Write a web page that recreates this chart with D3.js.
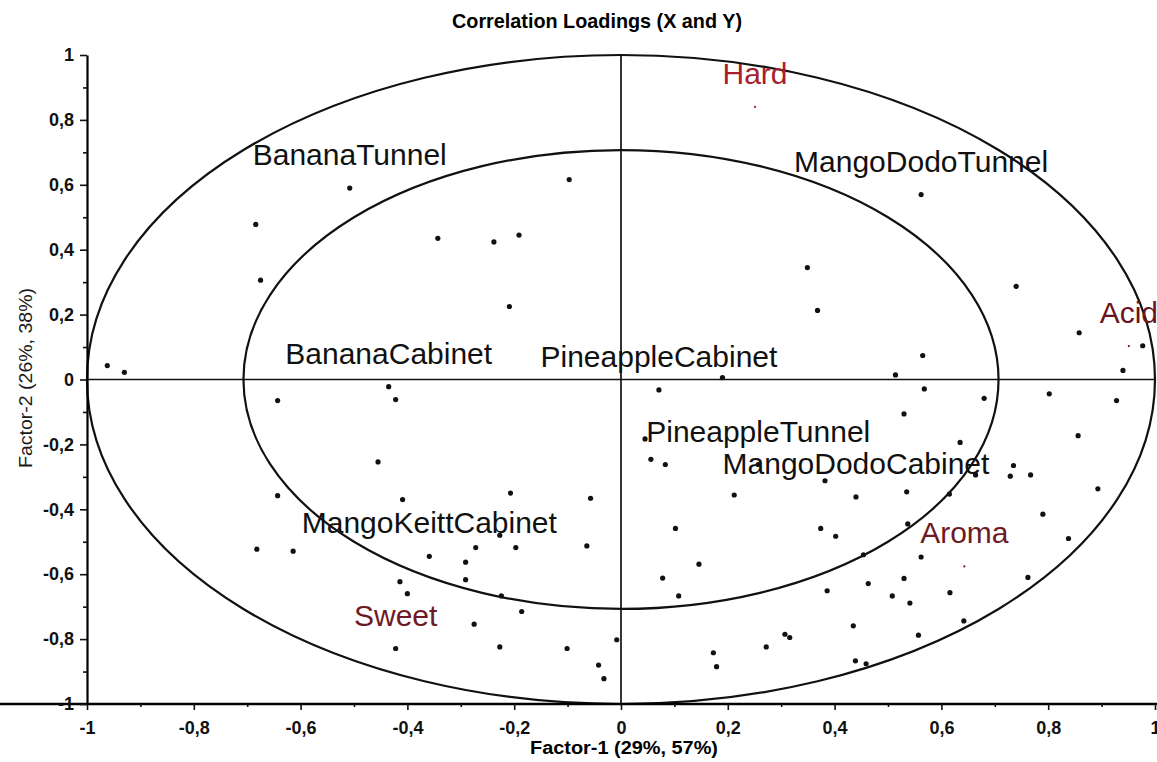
<!DOCTYPE html>
<html>
<head>
<meta charset="utf-8">
<script src="https://cdn.jsdelivr.net/npm/d3@7"></script>
<style>
  body { margin: 0; background: #fff; }
  svg { display: block; font-family: "Liberation Sans", Arial, sans-serif; }
</style>
</head>
<body>
<svg width="1157" height="762"></svg>
<script>
// Tick values
var xTicks = [-1, -0.8, -0.6, -0.4, -0.2, 0, 0.2, 0.4, 0.6, 0.8, 1];
var yTicks = [-1, -0.8, -0.6, -0.4, -0.2, 0, 0.2, 0.4, 0.6, 0.8, 1];
var minorTicks = [-0.9, -0.7, -0.5, -0.3, -0.1, 0.1, 0.3, 0.5, 0.7, 0.9];

// Explained variance circles (100% and 50%)
var circleRadii = [1, 0.707];

// Labelled objects (samples)
var sampleNames = ["BananaTunnel", "MangoDodoTunnel", "BananaCabinet", "PineappleCabinet",
                   "PineappleTunnel", "MangoDodoCabinet", "MangoKeittCabinet"];
var sampleX = [-0.508, 0.562, -0.435, 0.071, 0.257, 0.440, -0.359];
var sampleY = [0.590, 0.570, -0.022, -0.032, -0.262, -0.362, -0.545];

// Y variables
var responseNames = ["Hard", "Acid", "Aroma", "Sweet"];
var responseX = [0.251, 0.951, 0.643, -0.422];
var responseY = [0.840, 0.103, -0.576, -0.829];

// X variable loadings (unlabelled dots)
var loadX = [-0.684, -0.343, -0.675, -0.962, -0.930, -0.643, -0.422, -0.097, -0.238, -0.191,
             -0.209, 0.349, 0.368, 0.190, 0.740, 0.858, 0.977, 0.940, 0.565, 0.514,
             0.568, 0.680, 0.802, 0.928, 0.530, 0.856, 0.635, 0.735, 0.729, 0.767,
             0.664, 0.382, 0.893, 0.535, 0.615, 0.790, 0.374, 0.402, 0.537, 0.838,
             0.454, 0.562, 0.762, 0.386, 0.463, 0.530, 0.508, 0.541, 0.616, 0.435,
             0.557, 0.642, 0.439, 0.459, 0.045, 0.056, 0.083, 0.212, 0.102, 0.146,
             0.078, 0.108, 0.307, 0.316, 0.272, 0.173, 0.179, -0.207, -0.057, -0.272,
             -0.197, -0.064, -0.291, -0.291, -0.224, -0.186, -0.275, -0.227, -0.101, -0.008,
             -0.042, -0.032, -0.227, -0.455, -0.643, -0.409, -0.682, -0.614, -0.414, -0.400,
             -0.422];
var loadY = [0.478, 0.435, 0.306, 0.043, 0.022, -0.065, -0.062, 0.616, 0.424, 0.445,
             0.225, 0.345, 0.213, 0.006, 0.287, 0.144, 0.104, 0.028, 0.074, 0.014,
             -0.029, -0.058, -0.044, -0.065, -0.106, -0.173, -0.194, -0.265, -0.298, -0.294,
             -0.294, -0.312, -0.337, -0.346, -0.353, -0.415, -0.459, -0.483, -0.445, -0.490,
             -0.540, -0.547, -0.610, -0.651, -0.629, -0.613, -0.667, -0.689, -0.657, -0.759,
             -0.788, -0.744, -0.867, -0.876, -0.183, -0.246, -0.262, -0.356, -0.459, -0.569,
             -0.612, -0.667, -0.785, -0.795, -0.824, -0.842, -0.885, -0.350, -0.366, -0.518,
             -0.518, -0.513, -0.563, -0.617, -0.667, -0.715, -0.754, -0.824, -0.829, -0.802,
             -0.880, -0.922, -0.480, -0.254, -0.358, -0.370, -0.523, -0.529, -0.623, -0.660,
             -0.829];

// The svg
var svg = d3.select("svg"),
    width = +svg.attr("width"),
    height = +svg.attr("height");

var x = d3.scaleLinear().domain([-1, 1]).range([87, 1155]);
var y = d3.scaleLinear().domain([-1, 1]).range([704, 55]);

var fmt = d3.formatLocale({decimal: ",", thousands: ".", grouping: [3], currency: ["", ""], minus: "-"})
    .format(".1~f");

var responseColor = d3.scaleOrdinal()
    .domain(responseNames)
    .range(["#a8202e", "#6a1420", "#6e1a24", "#6e1a24"]);

// Title
svg.append("text")
    .attr("x", 597)
    .attr("y", 28)
    .attr("text-anchor", "middle")
    .attr("font-size", 21)
    .attr("font-weight", "bold")
    .attr("textLength", 290)
    .attr("lengthAdjust", "spacingAndGlyphs")
    .text("Correlation Loadings (X and Y)");

// Circles
svg.append("g")
    .selectAll("ellipse")
    .data(circleRadii)
    .enter()
    .append("ellipse")
    .attr("cx", x(0))
    .attr("cy", y(0))
    .attr("rx", function (r) { return x(r) - x(0); })
    .attr("ry", function (r) { return y(0) - y(r); })
    .attr("fill", "none")
    .attr("stroke", "#111")
    .attr("stroke-width", 2.2);

// Cross lines
svg.append("line")
    .attr("x1", x(0)).attr("x2", x(0))
    .attr("y1", y(1)).attr("y2", y(-1))
    .attr("stroke", "#111").attr("stroke-width", 1.7);
svg.append("line")
    .attr("x1", x(-1)).attr("x2", x(1))
    .attr("y1", y(0)).attr("y2", y(0))
    .attr("stroke", "#111").attr("stroke-width", 1.7);

// Axes
var gx = svg.append("g")
    .attr("transform", "translate(0," + y(-1) + ")")
    .call(d3.axisBottom(x).tickValues(xTicks).tickFormat(fmt).tickSize(6).tickSizeOuter(0).tickPadding(11));
svg.append("g")
    .attr("transform", "translate(0," + y(-1) + ")")
    .call(d3.axisBottom(x).tickValues(minorTicks).tickFormat("").tickSize(3).tickSizeOuter(0))
    .call(function (g) { g.select(".domain").remove(); });

var gy = svg.append("g")
    .attr("transform", "translate(" + x(-1) + ",0)")
    .call(d3.axisLeft(y).tickValues(yTicks).tickFormat(fmt).tickSize(7).tickSizeOuter(0).tickPadding(6));
svg.append("g")
    .attr("transform", "translate(" + x(-1) + ",0)")
    .call(d3.axisLeft(y).tickValues(minorTicks).tickFormat("").tickSize(4).tickSizeOuter(0))
    .call(function (g) { g.select(".domain").remove(); });

gx.select(".domain").attr("d", "M0,0H" + width).attr("stroke-width", 2.6);
gy.select(".domain").attr("stroke-width", 2.2);
svg.selectAll(".tick line").attr("stroke", "#111").attr("stroke-width", 1.6);
svg.selectAll(".tick text")
    .attr("font-family", "'Liberation Sans', Arial, sans-serif")
    .attr("font-size", 18)
    .attr("font-weight", "bold")
    .attr("fill", "#111");

// Axis titles
svg.append("text")
    .attr("x", 624)
    .attr("y", 754)
    .attr("text-anchor", "middle")
    .attr("font-size", 18)
    .attr("font-weight", "bold")
    .attr("textLength", 188)
    .attr("lengthAdjust", "spacingAndGlyphs")
    .text("Factor-1 (29%, 57%)");

svg.append("text")
    .attr("transform", "translate(32,378) rotate(-90)")
    .attr("text-anchor", "middle")
    .attr("font-size", 19)
    .attr("textLength", 180)
    .attr("lengthAdjust", "spacingAndGlyphs")
    .attr("fill", "#1a1a1a")
    .text("Factor-2 (26%, 38%)");

// Y variables: small dark red dot (drawn first so black dots sit on top)
var responses = svg.append("g")
    .selectAll("g")
    .data(d3.range(responseNames.length))
    .enter()
    .append("g")
    .attr("transform", function (i) { return "translate(" + x(responseX[i]) + "," + y(responseY[i]) + ")"; });
responses.append("circle")
    .attr("r", 1.1)
    .attr("fill", function (i) { return responseColor(responseNames[i]); });

// X variable dots
svg.append("g")
    .selectAll("circle")
    .data(d3.range(loadX.length))
    .enter()
    .append("circle")
    .attr("cx", function (i) { return x(loadX[i]); })
    .attr("cy", function (i) { return y(loadY[i]); })
    .attr("r", 2.6)
    .attr("fill", "#111");

// Samples: dot and label above
var samples = svg.append("g")
    .selectAll("g")
    .data(d3.range(sampleNames.length))
    .enter()
    .append("g")
    .attr("transform", function (i) { return "translate(" + x(sampleX[i]) + "," + y(sampleY[i]) + ")"; });
samples.append("circle").attr("r", 2.6).attr("fill", "#111");
samples.append("text")
    .attr("y", -23)
    .attr("text-anchor", "middle")
    .attr("font-size", 30)
    .attr("fill", "#111")
    .text(function (i) { return sampleNames[i]; });

// Y variable labels
responses.append("text")
    .attr("y", -23)
    .attr("text-anchor", "middle")
    .attr("font-size", 30)
    .attr("fill", function (i) { return responseColor(responseNames[i]); })
    .text(function (i) { return responseNames[i]; });
</script>
</body>
</html>
